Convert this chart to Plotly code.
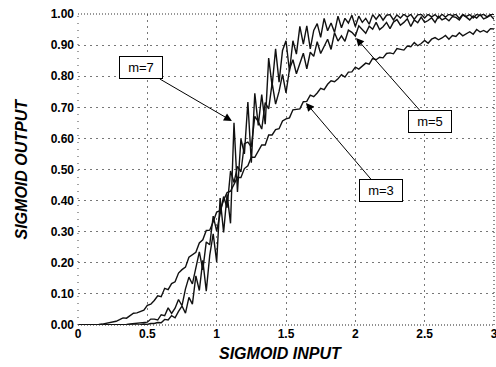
import plotly.graph_objects as go

x_input = [0.0, 0.025, 0.05, 0.075, 0.1, 0.125, 0.15, 0.175, 0.2, 0.225,
           0.25, 0.275, 0.3, 0.325, 0.35, 0.375, 0.4, 0.425, 0.45, 0.475,
           0.5, 0.525, 0.55, 0.575, 0.6, 0.625, 0.65, 0.675, 0.7, 0.725,
           0.75, 0.775, 0.8, 0.825, 0.85, 0.875, 0.9, 0.925, 0.95, 0.975,
           1.0, 1.025, 1.05, 1.075, 1.1, 1.125, 1.15, 1.175, 1.2, 1.225,
           1.25, 1.275, 1.3, 1.325, 1.35, 1.375, 1.4, 1.425, 1.45, 1.475,
           1.5, 1.525, 1.55, 1.575, 1.6, 1.625, 1.65, 1.675, 1.7, 1.725,
           1.75, 1.775, 1.8, 1.825, 1.85, 1.875, 1.9, 1.925, 1.95, 1.975,
           2.0, 2.025, 2.05, 2.075, 2.1, 2.125, 2.15, 2.175, 2.2, 2.225,
           2.25, 2.275, 2.3, 2.325, 2.35, 2.375, 2.4, 2.425, 2.45, 2.475,
           2.5, 2.525, 2.55, 2.575, 2.6, 2.625, 2.65, 2.675, 2.7, 2.725,
           2.75, 2.775, 2.8, 2.825, 2.85, 2.875, 2.9, 2.925, 2.95, 2.975,
           3.0]

m3_output = [0, 0, 0, 0, 0.001, 0.001, 0.002, 0.003, 0.005, 0.006, 0.009, 0.012,
             0.017, 0.023, 0.022, 0.030, 0.038, 0.039, 0.043, 0.048,
             0.063, 0.067, 0.079, 0.094, 0.091, 0.118, 0.114, 0.133, 0.139, 0.167,
             0.178, 0.186, 0.218, 0.226, 0.234, 0.264, 0.274, 0.304, 0.305, 0.332,
             0.363, 0.368, 0.401, 0.426, 0.430, 0.452, 0.475, 0.474, 0.503, 0.512,
             0.540, 0.539, 0.559, 0.579, 0.579, 0.611, 0.611, 0.628, 0.631, 0.656,
             0.663, 0.666, 0.692, 0.694, 0.695, 0.718, 0.719, 0.739, 0.734, 0.746,
             0.761, 0.757, 0.774, 0.785, 0.782, 0.792, 0.805, 0.797, 0.813, 0.814,
             0.829, 0.823, 0.832, 0.842, 0.839, 0.857, 0.853, 0.861, 0.859, 0.873,
             0.875, 0.872, 0.889, 0.886, 0.884, 0.897, 0.895, 0.908, 0.898, 0.905,
             0.915, 0.906, 0.919, 0.924, 0.917, 0.923, 0.931, 0.919, 0.931, 0.928,
             0.940, 0.930, 0.936, 0.943, 0.935, 0.950, 0.942, 0.947, 0.941, 0.953, 0.952]

m5_output = [0, 0, 0, 0, 0, 0, 0, 0, 0, 0, 0, 0,
             0.001, 0.001, 0.002, 0.003, 0.004, 0.005, 0.007, 0.009,
             0.009, 0.019, 0.019, 0.016, 0.033, 0.030, 0.055, 0.037, 0.054, 0.082,
             0.062, 0.116, 0.154, 0.132, 0.181, 0.235, 0.177, 0.267, 0.258, 0.350,
             0.302, 0.355, 0.413, 0.377, 0.495, 0.458, 0.510, 0.492, 0.583, 0.588,
             0.573, 0.671, 0.654, 0.630, 0.715, 0.695, 0.778, 0.710, 0.751, 0.806,
             0.746, 0.822, 0.853, 0.808, 0.839, 0.874, 0.824, 0.877, 0.864, 0.911,
             0.873, 0.894, 0.919, 0.886, 0.940, 0.913, 0.930, 0.912, 0.948, 0.941,
             0.929, 0.962, 0.949, 0.938, 0.961, 0.951, 0.973, 0.950, 0.959, 0.973,
             0.953, 0.974, 0.982, 0.964, 0.973, 0.985, 0.960, 0.981, 0.972, 0.990,
             0.973, 0.979, 0.988, 0.973, 0.993, 0.981, 0.987, 0.978, 0.992, 0.989,
             0.981, 0.997, 0.990, 0.981, 0.994, 0.987, 0.998, 0.984, 0.989, 0.996, 0.983]

m7_output = [0, 0, 0, 0, 0, 0, 0, 0, 0, 0, 0, 0, 0, 0, 0, 0,
             0.000, 0.001, 0.001, 0.003,
             0.002, 0.005, 0.005, 0.008, 0.007, 0.018, 0.016, 0.030, 0.023, 0.044,
             0.061, 0.038, 0.089, 0.067, 0.158, 0.111, 0.208, 0.109, 0.224, 0.293,
             0.203, 0.408, 0.298, 0.420, 0.327, 0.650, 0.428, 0.598, 0.550, 0.717,
             0.522, 0.745, 0.642, 0.741, 0.646, 0.858, 0.769, 0.888, 0.781, 0.883,
             0.914, 0.815, 0.914, 0.871, 0.960, 0.903, 0.962, 0.888, 0.947, 0.969,
             0.925, 0.986, 0.946, 0.971, 0.941, 0.993, 0.956, 0.986, 0.971, 0.996,
             0.960, 0.993, 0.973, 0.986, 0.967, 0.998, 0.983, 0.998, 0.980, 0.996,
             0.998, 0.981, 0.997, 0.987, 0.999, 0.990, 0.999, 0.983, 0.997, 0.999,
             0.987, 0.999, 0.991, 0.998, 0.987, 0.999, 0.990, 0.999, 0.995, 0.999,
             0.986, 0.999, 0.992, 0.998, 0.987, 0.999, 0.995, 0.999, 0.991, 0.999, 0.999]

x_tick_vals = [0, 0.5, 1, 1.5, 2, 2.5, 3]
x_tick_text = ["0", "0.5", "1", "1.5", "2", "2.5", "3"]
y_tick_vals = [0, 0.1, 0.2, 0.3, 0.4, 0.5, 0.6, 0.7, 0.8, 0.9, 1.0]
y_tick_text = ["0.00", "0.10", "0.20", "0.30", "0.40", "0.50",
               "0.60", "0.70", "0.80", "0.90", "1.00"]
series_names = ["m=3", "m=5", "m=7"]

FONT = "Liberation Sans, Arial, Helvetica, sans-serif"

fig = go.Figure()
for name, ys in zip(series_names, [m3_output, m5_output, m7_output]):
    fig.add_trace(go.Scatter(x=x_input, y=ys, mode="lines", name=name,
                             line=dict(color="#111111", width=1.4),
                             showlegend=False, hoverinfo="skip"))

grid_dash = "2px,4px"
fig.update_layout(
    width=496, height=367,
    margin=dict(l=78, r=2, t=14, b=42),
    paper_bgcolor="white", plot_bgcolor="white",
    font=dict(family=FONT, color="black"),
    xaxis=dict(range=[0, 3], tickvals=x_tick_vals, ticktext=x_tick_text,
               showgrid=True, gridcolor="#777777", gridwidth=1, griddash=grid_dash,
               zeroline=False, showline=False, ticks="", automargin=False,
               ticklabeloverflow="allow",
               tickfont=dict(size=12, family=FONT, weight="bold")),
    yaxis=dict(range=[0, 1.0], tickvals=y_tick_vals, ticktext=y_tick_text,
               showgrid=True, gridcolor="#777777", gridwidth=1, griddash=grid_dash,
               zeroline=False, showline=False, ticks="", automargin=False,
               ticklabeloverflow="allow", ticklabelstandoff=3,
               tickfont=dict(size=12, family=FONT, weight="bold")),
)

# axis titles
fig.add_annotation(text="<b><i>SIGMOID INPUT</i></b>", xref="paper", yref="paper",
                   x=0.486, y=0, xanchor="center", yanchor="middle", yshift=-28,
                   showarrow=False, font=dict(size=16, family=FONT, color="black"))
fig.add_annotation(text="<b><i>SIGMOID OUTPUT</i></b>", xref="paper", yref="paper",
                   x=0, y=0.5, xanchor="center", yanchor="middle", xshift=-57,
                   textangle=-90, showarrow=False,
                   font=dict(size=16, family=FONT, color="black"))

# dotted frame
frame = [
    dict(x0=0, x1=1, y0=0, y1=0, dash="1px,2px", color="#222222"),
    dict(x0=0, x1=1, y0=1, y1=1, dash="1px,2px", color="#333333"),
    dict(x0=0, x1=0, y0=0, y1=1, dash="1px,6px", color="#666666"),
    dict(x0=1, x1=1, y0=0, y1=1, dash="1px,3px", color="#444444"),
]
for f in frame:
    fig.add_shape(type="line", xref="paper", yref="paper",
                  x0=f["x0"], x1=f["x1"], y0=f["y0"], y1=f["y1"],
                  line=dict(color=f["color"], width=1.2, dash=f["dash"]))

ann_common = dict(xref="x", yref="y", showarrow=True, arrowhead=2,
                  arrowsize=1.6, arrowwidth=1, arrowcolor="black",
                  bordercolor="black", borderwidth=1, bgcolor="white",
                  width=40, height=19,
                  font=dict(size=13, family=FONT, color="black"))
fig.add_annotation(text="m=7", x=1.11, y=0.656, ax=-91, ay=-53, **ann_common)
fig.add_annotation(text="m=5", x=2.005, y=0.923, ax=74, ay=84, **ann_common)
fig.add_annotation(text="m=3", x=1.644, y=0.714, ax=75, ay=88, **ann_common)

fig.write_html("out.html", config={"displayModeBar": False},
               post_script="document.body.style.margin='0';document.body.style.overflow='hidden';")
